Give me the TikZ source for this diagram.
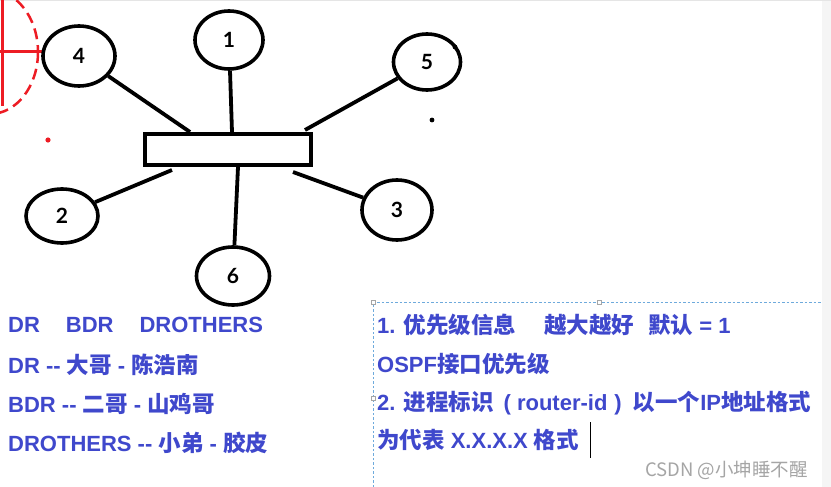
\documentclass[tikz,border=0pt]{standalone}
\usepackage{fontspec}
\setmainfont{Liberation Sans}
\newfontfamily\cjk{Noto Sans CJK SC}
\newfontfamily\numfont{Lato}
\usetikzlibrary{shapes.geometric}
\definecolor{ink}{RGB}{63,72,204}
\definecolor{penred}{RGB}{237,28,36}
\definecolor{selblue}{RGB}{110,170,220}
\definecolor{wmgray}{RGB}{165,165,165}
\newcommand\zh[1]{{\cjk\fontsize{22.5}{26}\selectfont #1}}
\tikzset{
  router/.style={ellipse, draw=black, line width=3.6pt, inner sep=0pt,
    font=\numfont\bfseries\fontsize{21}{24}\selectfont},
  busbar/.style={rectangle, draw=black, line width=4pt, inner sep=0pt,
    minimum width=166pt, minimum height=31pt},
  link/.style={line width=3.8pt, draw=black},
  lefttxt/.style={anchor=base west, inner sep=0pt, text=ink,
    font=\bfseries\fontsize{22}{26}\selectfont},
  righttxt/.style={anchor=base west, inner sep=0pt, text=ink,
    font=\bfseries\fontsize{22}{26}\selectfont},
  redmark/.style={draw=penred, line width=3pt},
  handle/.style={draw=gray!70, fill=white, line width=0.6pt},
}
\begin{document}
\begin{tikzpicture}[x=1pt,y=-1pt]
\useasboundingbox (0,0) rectangle (831,487);
\fill[white] (0,0) rectangle (831,487);
\fill[gray!8] (822,0) rectangle (831,487);
\draw[gray!20, line width=1pt] (0,0.5) -- (831,0.5);

% red annotation
\draw[draw=penred, line width=2.5pt, dash pattern=on 11pt off 6pt] (-10,52) ellipse [x radius=48, y radius=62];
\draw[redmark] (2,0) -- (2,106);
\draw[redmark] (0,52) -- (44,52);
\fill[penred] (48,140) circle (2.6);

% bus bar
\node[busbar] (bar) at (228,149.5) {};
\coordinate (b1) at (232,132);
\coordinate (b4) at (190,132);
\coordinate (b5) at (305,130);
\coordinate (b2) at (172,170);
\coordinate (b6) at (238,167);
\coordinate (b3) at (293,172);

% routers
\node[router, minimum width=68pt, minimum height=58pt] (n1) at (229,40) {1};
\node[router, minimum width=72pt, minimum height=60pt] (n4) at (79,56) {4};
\node[router, minimum width=67pt, minimum height=56pt] (n5) at (427,62) {5};
\node[router, minimum width=72pt, minimum height=54pt] (n2) at (62,216) {2};
\node[router, minimum width=70pt, minimum height=60pt] (n3) at (397,210) {3};
\node[router, minimum width=73pt, minimum height=58pt] (n6) at (233,276) {6};

\draw[link] (n1) -- (b1);
\draw[link] (n4) -- (b4);
\draw[link] (n5) -- (b5);
\draw[link] (n2) -- (b2);
\draw[link] (n6) -- (b6);
\draw[link] (n3) -- (b3);

\fill[black] (432,120) circle (2.4);
\fill[black] (455,47) circle (2.4);

% left text
\node[lefttxt] (l1) at (8,332) {DR\hspace{26pt}BDR\hspace{26pt}DROTHERS};
\node[lefttxt] (l2) at (8,373) {DR -{}- \zh{大哥} - \zh{陈浩南}};
\node[lefttxt] (l3) at (8,412) {BDR -{}- \zh{二哥} - \zh{山鸡哥}};
\node[lefttxt] (l4) at (8,451) {DROTHERS -{}- \zh{小弟} - \zh{胶皮}};

% selection box
\draw[selblue, line width=0.8pt, dash pattern=on 2.5pt off 2pt] (373,487) -- (373,302) -- (822,302);
\draw[handle] (371,300) rectangle (375,304);
\draw[handle] (597,300) rectangle (601,304);
\draw[handle] (371,396) rectangle (375,400);

% right text
\node[righttxt] (r1) at (377,333) {1. \zh{优先级信息}\hspace{28pt}\zh{越大越好}\hspace{14pt}\zh{默认} = 1};
\node[righttxt] (r2) at (377,372) {OSPF\zh{接口优先级}};
\node[righttxt] (r3) at (377,410) {2. \zh{进程标识}\hspace{10pt}(\hspace{6pt}router-id\hspace{7pt})\hspace{11pt}\zh{以一个}IP\zh{地址格式}};
\node[righttxt] (r4) at (377,448) {\zh{为代表} X.X.X.X \zh{格式}};
\draw[black, line width=1pt] (590,422) -- (590,458);

% watermark
\node[anchor=base west, inner sep=0pt, text=wmgray, font=\cjk\fontsize{18.5}{22}\selectfont] (wm) at (645,476) {CSDN @小坤睡不醒};
\end{tikzpicture}
\end{document}
